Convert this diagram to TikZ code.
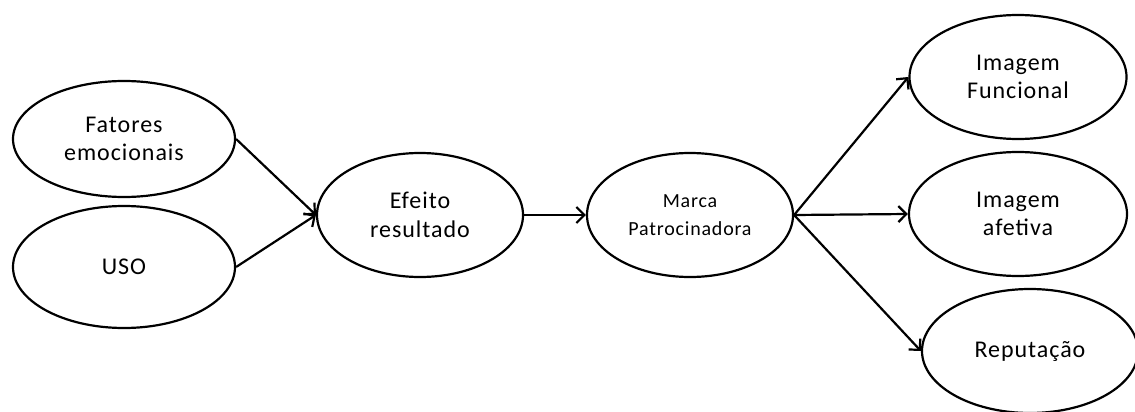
\documentclass[tikz,border=0pt]{standalone}
\usepackage{fontspec}
\setmainfont[LetterSpace=4]{Carlito}
\usetikzlibrary{shapes.geometric,arrows.meta}
\begin{document}
\begin{tikzpicture}[x=1pt,y=-1pt,
  ell/.style={draw,ellipse,line width=2.2pt,inner sep=0pt,align=center,font=\fontsize{24}{28.5}\selectfont},
  smalltext/.style={font=\fontsize{20}{28.5}\selectfont},
  arr/.style={line width=2.2pt,-{Straight Barb[length=8pt,width=16pt,line width=2.2pt]}}]
\useasboundingbox (0,0) rectangle (1135,412);
\clip (0,0) rectangle (1135,412);
\node[ell,minimum width=222pt,minimum height=116pt] (fe) at (124,139) {Fatores\\emocionais};
\node[ell,minimum width=222pt,minimum height=122pt] (uso) at (124,267) {USO};
\node[ell,minimum width=206pt,minimum height=124pt] (ef) at (420,215) {Efeito\\resultado};
\node[ell,smalltext,minimum width=206pt,minimum height=124pt] (mp) at (690,215) {Marca\\Patrocinadora};
\node[ell,minimum width=217pt,minimum height=124pt] (if) at (1018,77) {Imagem\\Funcional};
\node[ell,minimum width=218pt,minimum height=124pt] (ia) at (1018,214) {Imagem\\afetiva};
\node[ell,minimum width=216pt,minimum height=124pt] (rep) at (1030,351) {Reputação};
\draw[arr] (fe.east) -- (ef.west);
\draw[arr] (uso.east) -- (ef.west);
\draw[arr] (ef.east) -- (mp.west);
\draw[arr] (mp.east) -- (if.west);
\draw[arr] (mp.east) -- (ia.west);
\draw[arr] (mp.east) -- (rep.west);
\end{tikzpicture}
\end{document}
